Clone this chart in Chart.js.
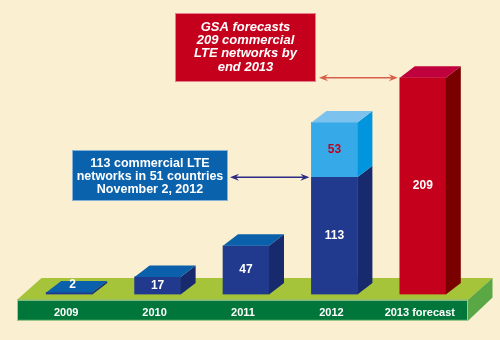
<!DOCTYPE html>
<html>
<head>
<meta charset="utf-8">
<script src="https://cdn.jsdelivr.net/npm/chart.js@4"></script>
<style>
  html, body { margin: 0; padding: 0; background: #faefd0; }
  canvas { display: block; }
</style>
</head>
<body>
<canvas id="lteChart" width="500" height="340"></canvas>
<script>
// ---- data ----
const years = ["2009", "2010", "2011", "2012", "2013 forecast"];
const launched = [2, 17, 47, 113, null];
const extra2012 = [null, null, null, 53, null];
const forecast = [null, null, null, null, 209];

const forecastNote = ["GSA forecasts", "209 commercial", "LTE networks by", "end 2013"];
const launchedNote = ["113 commercial LTE", "networks in 51 countries", "November 2, 2012"];

// depth of the fake 3D faces
const DX = 15;
const DY = 11.5;

function poly(ctx, pts, fill) {
  ctx.beginPath();
  ctx.moveTo(pts[0][0], pts[0][1]);
  for (let i = 1; i < pts.length; i++) ctx.lineTo(pts[i][0], pts[i][1]);
  ctx.closePath();
  ctx.fillStyle = fill;
  ctx.fill();
}

function arrow(ctx, x1, x2, y, color) {
  ctx.save();
  ctx.strokeStyle = color;
  ctx.fillStyle = color;
  ctx.lineWidth = 1.5;
  ctx.beginPath();
  ctx.moveTo(x1 + 4, y);
  ctx.lineTo(x2 - 4, y);
  ctx.stroke();
  [[x1, 1], [x2, -1]].forEach(([x, d]) => {
    ctx.beginPath();
    ctx.moveTo(x, y);
    ctx.lineTo(x + d * 9, y - 3.5);
    ctx.lineTo(x + d * 6, y);
    ctx.lineTo(x + d * 9, y + 3.5);
    ctx.closePath();
    ctx.fill();
  });
  ctx.restore();
}

function noteBox(ctx, box, lines, font, fill) {
  ctx.save();
  ctx.fillStyle = fill;
  ctx.fillRect(box.x, box.y, box.w, box.h);
  ctx.strokeStyle = "rgba(255,255,255,0.5)";
  ctx.lineWidth = 1;
  ctx.strokeRect(box.x + 0.5, box.y + 0.5, box.w - 1, box.h - 1);
  ctx.fillStyle = "#ffffff";
  ctx.font = font;
  ctx.textAlign = "center";
  ctx.textBaseline = "middle";
  lines.forEach((t, i) => ctx.fillText(t, box.x + box.w / 2, box.firstLine + i * box.lineGap));
  ctx.restore();
}

const depthPlugin = {
  id: "depth",
  beforeDraw(chart) {
    const { ctx, chartArea, scales } = chart;
    ctx.save();
    ctx.fillStyle = "#faefd0";
    ctx.fillRect(0, 0, chart.width, chart.height);

    // green platform under the bars
    const base = scales.y.getPixelForValue(0);
    const l = chartArea.left - 8;
    const r = chartArea.right + 1;
    const front = base + 5.3;
    const bottom = base + 26.3;
    const back = base - 16.5;
    const sx = 24.5;
    poly(ctx, [[l, front], [l + sx, back], [r + sx, back], [r, front]], "#a6c43a");
    poly(ctx, [[r, front], [r + sx, back], [r + sx, back + 19.5], [r, bottom]], "#5aa845");
    poly(ctx, [[l, front], [r, front], [r, bottom], [l, bottom]], "#00763a");
    ctx.strokeStyle = "rgba(230,240,180,0.7)";
    ctx.lineWidth = 1;
    ctx.strokeRect(l + 0.5, front + 0.5, r - l - 1, bottom - front - 1);
    ctx.restore();
  },
  afterDatasetsDraw(chart) {
    const { ctx } = chart;
    const metas = chart.data.datasets.map((ds, i) => chart.getDatasetMeta(i));
    ctx.save();

    // side and top faces, bottom segment first
    years.forEach((yr, idx) => {
      let topDs = -1;
      metas.forEach((m, di) => {
        if (chart.data.datasets[di].data[idx] != null) topDs = di;
      });
      metas.forEach((m, di) => {
        const ds = chart.data.datasets[di];
        if (ds.data[idx] == null) return;
        const { x, y, base, width } = m.data[idx].getProps(["x", "y", "base", "width"], true);
        const xl = x - width / 2;
        const xr = x + width / 2;
        poly(ctx, [[xr, y], [xr + DX, y - DY], [xr + DX, base - DY], [xr, base]], ds.sideColor);
        if (di === topDs) {
          poly(ctx, [[xl, y], [xl + DX, y - DY], [xr + DX, y - DY], [xr, y]], ds.topColor);
        }
      });
    });

    // value labels
    ctx.font = "bold 12px 'Liberation Sans', Arial, sans-serif";
    ctx.textAlign = "center";
    ctx.textBaseline = "middle";
    metas.forEach((m, di) => {
      const ds = chart.data.datasets[di];
      m.data.forEach((bar, idx) => {
        const v = ds.data[idx];
        if (v == null) return;
        const { x, y, base } = bar.getProps(["x", "y", "base"], true);
        ctx.fillStyle = ds.labelColor;
        if (base - y < 10) ctx.fillText(String(v), x + DX / 2 - 4, y - DY / 2 - 2);
        else ctx.fillText(String(v), x, (y + base) / 2);
      });
    });

    // callouts with arrows to the bars
    const red = metas[2].data[4].getProps(["x", "y", "width"], true);
    const blue = metas[0].data[3].getProps(["x", "y", "width"], true);

    noteBox(ctx, { x: 175, y: 13, w: 141, h: 69, firstLine: 27, lineGap: 13.4 },
      forecastNote, "italic bold 13px 'Liberation Sans', Arial, sans-serif", "#c4001c");
    arrow(ctx, 319, red.x - red.width / 2 - 2, red.y, "#d8604a");

    noteBox(ctx, { x: 72, y: 150, w: 156, h: 51, firstLine: 163.5, lineGap: 13 },
      launchedNote, "bold 12.5px 'Liberation Sans', Arial, sans-serif", "#0a62ac");
    arrow(ctx, 230, blue.x - blue.width / 2 - 2, blue.y, "#2b2a85");

    ctx.restore();
  }
};

new Chart(document.getElementById("lteChart"), {
  type: "bar",
  data: {
    labels: years,
    datasets: [
      {
        label: "Commercial LTE networks",
        data: launched,
        backgroundColor: "#213a8e",
        topColor: "#0a60aa",
        sideColor: "#172a6e",
        labelColor: "#ffffff",
        barThickness: 46,
      },
      {
        label: "2012 additional",
        data: extra2012,
        backgroundColor: "#36aae8",
        topColor: "#7cc2ee",
        sideColor: "#0095dc",
        labelColor: "#c4001c",
        barThickness: 46,
      },
      {
        label: "2013 forecast",
        data: forecast,
        backgroundColor: "#c4001c",
        topColor: "#c0003c",
        sideColor: "#7a0000",
        labelColor: "#ffffff",
        barThickness: 46,
      },
    ],
  },
  options: {
    responsive: false,
    animation: false,
    layout: { padding: { top: 25, left: 25, right: 33, bottom: 8.3 } },
    plugins: {
      legend: { display: false },
      tooltip: { enabled: false },
    },
    scales: {
      x: {
        stacked: true,
        border: { display: false },
        grid: { display: false, drawTicks: false },
        ticks: {
          color: "#ffffff",
          padding: 12,
          labelOffset: -3,
          font: { family: "'Liberation Sans', Arial, sans-serif", size: 11, weight: "bold" },
        },
      },
      y: {
        stacked: true,
        display: false,
        min: 0,
        max: 260,
      },
    },
  },
  plugins: [depthPlugin],
});
</script>
</body>
</html>
